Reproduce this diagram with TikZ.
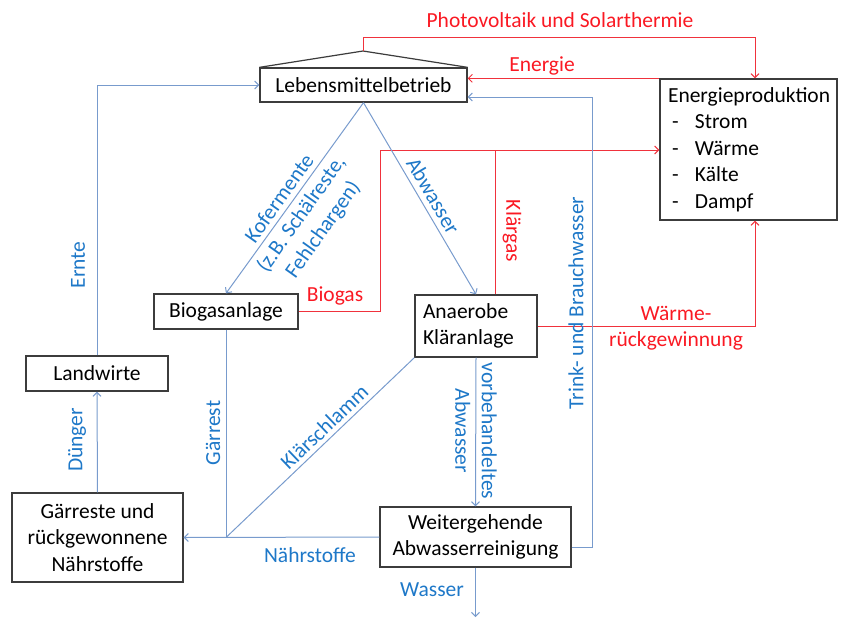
\documentclass[tikz,border=0pt]{standalone}
\usepackage{fontspec}
\setmainfont{Carlito}
\usetikzlibrary{arrows.meta,calc}

\definecolor{boxgray}{RGB}{60,60,60}
\definecolor{lineblue}{RGB}{120,155,205}
\definecolor{txtblue}{RGB}{30,120,200}
\definecolor{linered}{RGB}{240,50,60}
\definecolor{txtred}{RGB}{250,25,35}

\begin{document}
\begin{tikzpicture}[x=1pt,y=-1pt,
    font=\fontsize{21.5}{26.5}\selectfont,
    >={Straight Barb[length=4pt,width=8pt]},
    box/.style={draw=boxgray, line width=1.3pt, fill=white, inner sep=0pt, align=center},
    flow/.style={draw=lineblue, line width=1pt},
    hot/.style={draw=linered, line width=1pt},
    lbl/.style={text=txtblue, inner sep=1pt},
    lblr/.style={text=txtred, inner sep=1pt}]
            \useasboundingbox (0,0) rectangle (843,619);

            % boxes
            \node[box, minimum width=207, minimum height=34] (leb) at (363.5,85) {Lebensmittelbetrieb};
            \node[box, minimum width=177, minimum height=141, align=left, text width=161] (energy) at (748.5,149.5)
                {Energieproduktion\\
                 \hspace*{4pt}\makebox[23pt][l]{-}Strom\\
                 \hspace*{4pt}\makebox[23pt][l]{-}Wärme\\
                 \hspace*{4pt}\makebox[23pt][l]{-}Kälte\\
                 \hspace*{4pt}\makebox[23pt][l]{-}Dampf};
            \node[box, minimum width=144, minimum height=35] (biogas) at (226,311.5) {Biogasanlage};
            \node[box, minimum width=122, minimum height=62, align=left, text width=106] (anaerob) at (476,326) {Anaerobe\\Kläranlage};
            \node[box, minimum width=191, minimum height=60] (weiter) at (475.5,537) {Weitergehende\\Abwasserreinigung};
            \node[box, minimum width=171, minimum height=89] (gaer) at (97.5,537.5) {Gärreste und\\rückgewonnene\\Nährstoffe};
            \node[box, minimum width=142, minimum height=35] (landw) at (97,373.5) {Landwirte};

            \coordinate (roof) at (363,51);
            \coordinate (pvtop) at (363,37);
            \coordinate (bgturn) at (380,150);
            \coordinate (kgtop) at (495,150);
            \coordinate (trink) at (592,97);
            \coordinate (ernte) at (97,85);
            \coordinate (jn) at (biogas.south |- gaer.east);
            \coordinate (wout) at (475.5,617);

            % roof
            \draw[boxgray, line width=1.2pt] (leb.north west) -- (roof) -- (leb.north east);

            % energy (red)
            \draw[hot,->] (roof) -- (pvtop) -| ([xshift=6.5pt]energy.north);
            \node[lblr] (pvl) at (560,20) {Photovoltaik und Solarthermie};
            \draw[hot,->] (energy.north west) -- (energy.north west -| leb.east);
            \node[lblr] (enl) at (542,66) {Energie};
            \draw[hot,->] (biogas.east) -| (bgturn) -- (bgturn -| energy.west);
            \node[lblr] (bgl) at (335,296) {Biogas};
            \draw[hot] (anaerob.north -| kgtop) -- (kgtop);
            \node[lblr, rotate=-90] (kgl) at (512,231) {Klärgas};
            \draw[hot,->] (anaerob.east) -| ([xshift=6.5pt]energy.south);
            \node[lblr, align=center] (wrl) at (676,328) {Wärme-\\rückgewinnung};

            % material flows (blue)
            \draw[flow,->] (leb.south) -- (anaerob.north)
                node[lbl, pos=0.52, sloped, above=4pt] (abl) {Abwasser};
            \draw[flow,->] (leb.south) -- (biogas.north);
            \node[lbl, rotate=54.6, align=center] (kofl) at (302,214.5) {Kofermente\\(z.B. Schälreste,\\Fehlchargen)};
            \draw[flow,->] ([yshift=-10pt]weiter.east) -| (trink) -- ([yshift=-12pt]leb.east);
            \node[lbl, rotate=90] (twl) at (576,303) {Trink- und Brauchwasser};
            \draw[flow,->] (anaerob.south) -- (weiter.north);
            \node[lbl, rotate=-90, align=center] (vbl) at (476,431) {vorbehandeltes\\Abwasser};
            \draw[flow,->] (weiter.south) -- (wout);
            \node[lbl] (wal) at (432,590) {Wasser};
            \draw[flow,->] (weiter.west) -- (gaer.east);
            \node[lbl] (nsl) at (310,555) {Nährstoffe};
            \draw[flow] (biogas.south) -- (jn);
            \node[lbl, rotate=90] (grl) at (213,433) {Gärrest};
            \draw[flow] (anaerob.south west) -- (jn)
                node[lbl, pos=0.434, sloped, above=3pt] (ksl) {Klärschlamm};
            \draw[flow,->] (gaer.north) -- (landw.south);
            \node[lbl, rotate=90] (dgl) at (77,440) {Dünger};
            \draw[flow,->] (landw.north) -- (ernte) -- (ernte -| leb.west);
            \node[lbl, rotate=90] (ernl) at (78,265) {Ernte};

        \end{tikzpicture}
\end{document}
